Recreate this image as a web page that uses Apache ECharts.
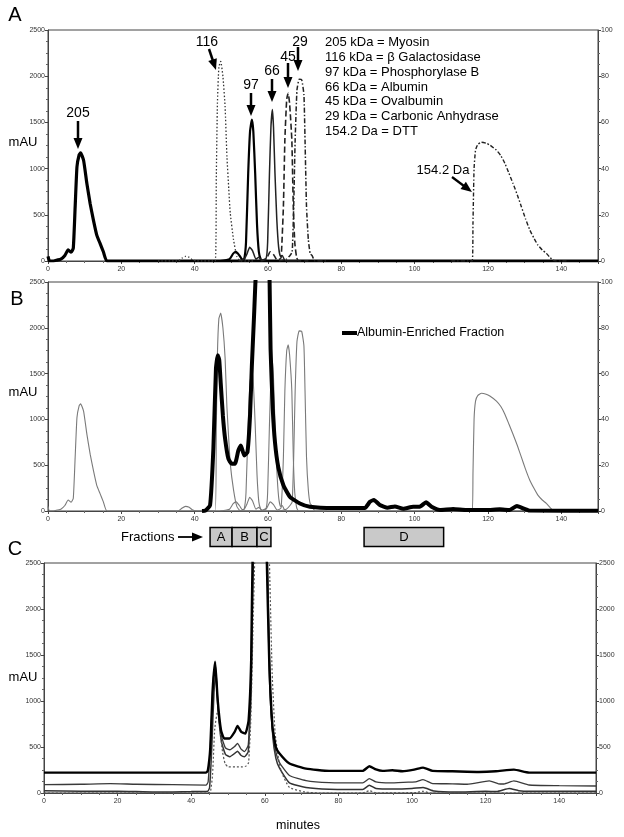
<!DOCTYPE html>
<html><head><meta charset="utf-8">
<script src="https://cdn.jsdelivr.net/npm/echarts@6/dist/echarts.min.js"></script>
<style>html,body{margin:0;padding:0;background:#fff}#c{width:624px;height:837px}</style>
</head><body><div id="c"></div>
<script>
// ---- data (minutes, mAU) ----
const myosin205 = [[0,50],[0.4,0],[1.5,0],[2.5,10],[3.5,20],[4.6,60],[5.5,120],[6.3,95],[6.9,140],[7.4,580],[7.9,1020],[8.5,1150],[8.9,1170],[9.7,1090],[10.6,840],[11.5,620],[12.4,440],[13.3,280],[14.2,190],[15.1,100],[16.1,0],[150,0]];
const bgal116 = [[30,0],[35.5,0],[36.5,30],[37.5,50],[38.5,40],[39.5,10],[40.5,0],[45.6,0],[45.9,900],[46.2,1700],[46.6,2100],[47.1,2160],[47.7,2000],[48.3,1670],[48.8,1130],[49.3,780],[49.7,520],[50.6,230],[51.5,50],[52.5,0],[56,0]];
const phos97 = [[47,0],[49.5,20],[50.5,80],[51.3,100],[52.2,60],[53,15],[53.5,20],[54.0,200],[54.6,950],[55.1,1400],[55.6,1530],[56.0,1400],[56.5,950],[57.0,400],[57.5,100],[58,20],[58.5,0],[62,0]];
const alb66 = [[52,0],[53.5,20],[54.3,80],[55.0,150],[55.8,110],[56.7,20],[57.5,40],[58.3,10],[59.5,30],[59.9,200],[60.4,950],[60.8,1450],[61.2,1640],[61.5,1450],[61.9,950],[62.4,450],[62.9,150],[63.4,50],[63.9,60],[64.4,20],[65,0],[68,0]];
const ova45 = [[58,0],[59.5,20],[60.6,100],[61.5,70],[62.5,10],[63.2,20],[63.6,40],[64.2,590],[64.6,1310],[65.1,1750],[65.5,1815],[65.9,1700],[66.5,1310],[66.9,590],[67.3,200],[67.8,40],[68.3,0],[71,0]];
const carb29 = [[63,0],[65,20],[66,60],[66.6,100],[67.0,580],[67.4,1300],[67.9,1850],[68.5,1966],[69.2,1960],[69.8,1800],[70.1,1310],[70.5,590],[71.0,230],[71.5,80],[72,60],[72.8,0],[76,0]];
const dtt154 = [[110,0],[115.7,0],[115.9,400],[116.2,1000],[116.6,1200],[117.2,1260],[118.2,1285],[119.5,1275],[120.5,1255],[122.3,1200],[123.5,1140],[124.6,1057],[125.7,950],[126.8,841],[128,715],[129.1,588],[130.2,460],[131.4,336],[132.5,250],[133.6,173],[134.8,120],[135.9,83],[137,35],[137.7,10],[138.5,0],[142,0]];
const enriched = [[42,0],[42.9,5],[44.2,62],[45.1,680],[45.8,1550],[46.3,1700],[46.7,1650],[47.1,1400],[47.7,1040],[48.3,790],[49.2,570],[50.1,516],[51.0,516],[51.9,660],[52.6,716],[53.5,607],[54.4,643],[55.1,1043],[55.6,1588],[56.2,2134],[56.7,2600],[58.5,3500],[59.8,3500],[60.4,2600],[60.7,1770],[61.3,1115],[61.9,752],[62.8,480],[64.2,280],[66,153],[68.7,82],[71.4,47],[77.8,33],[86.4,33],[87.8,100],[88.9,120],[90.5,65],[92.6,36],[94.6,50],[96.9,25],[99.6,47],[101.4,47],[103.1,95],[104.6,47],[106.9,11],[110.5,22],[114.1,11],[119.5,11],[123.2,18],[125.9,11],[127.9,55],[129.5,30],[131.3,5],[150,3]];
const runC1 = [[0,222],[20,222],[44,222],[44.5,240],[45.2,500],[45.8,1100],[46.5,1426],[47.2,1009],[48.1,682],[49.0,592],[50.4,592],[51.8,664],[52.6,729],[53.6,664],[54.7,646],[55.6,791],[56.3,1444],[56.7,2600],[58,3500],[60,3500],[60.5,2600],[61.2,1444],[62.1,718],[63,500],[64,430],[66.7,320],[71.2,265],[77.5,240],[86.6,240],[88.4,291],[90.2,256],[92,240],[94.7,247],[97.4,236],[100.6,254],[103,276],[105.6,240],[111,236],[118.2,229],[122.8,236],[127.7,254],[131.8,222],[150,222]];
const runC2 = [[0,90],[10,95],[18,102],[25,95],[35,90],[44,85],[44.6,120],[45.3,600],[46,1250],[46.6,1390],[47.3,950],[48.2,620],[49.3,490],[50.5,470],[51.8,505],[52.6,540],[53.5,480],[54.5,450],[55.5,520],[56.2,1200],[56.8,2600],[58,3500],[60,3500],[60.6,2600],[61.2,1300],[62,700],[63,450],[64,330],[66.7,190],[71.2,135],[77.5,113],[86.6,109],[88.4,156],[90.2,120],[94,109],[99,118],[101,120],[103,145],[105.6,102],[111,100],[115,95],[121,131],[123.5,100],[125,98],[127.7,131],[131.8,87],[140,80],[150,76]];
const runC3 = [[0,25],[10,20],[20,20],[30,10],[40,15],[44.5,20],[45,60],[45.6,500],[46.2,1100],[46.7,1300],[47.3,900],[48.2,560],[49.3,420],[50.5,395],[51.8,430],[52.6,455],[53.5,410],[54.5,395],[55.5,450],[56.3,1100],[56.9,2600],[58,3500],[60,3500],[60.7,2600],[61.4,1200],[62.2,600],[63,380],[64,270],[66.7,110],[71.2,60],[77.5,40],[86.6,37],[88.4,84],[90.2,50],[95,44],[100,50],[103,60],[106,22],[112,11],[120,18],[123,15],[126.4,48],[129,25],[132,18],[150,18]];
const runC4 = [[0,0],[44,0],[45.2,10],[45.8,200],[46.4,700],[47.2,900],[47.8,700],[48.5,450],[49.2,320],[50,285],[52,283],[54,283],[55,295],[55.6,330],[56.2,800],[56.8,1800],[57.3,2600],[58,3500],[60.5,3500],[61.2,2600],[62,1300],[62.8,650],[63.7,380],[64.5,230],[66.7,60],[71,10],[75,0],[86.6,0],[88.4,25],[90.5,0],[101,5],[103,18],[105,0],[150,0]];
const legendLines = ['205 kDa = Myosin','116 kDa = \u03b2 Galactosidase','97 kDa = Phosphorylase B','66 kDa = Albumin','45 kDa = Ovalbumin','29 kDa = Carbonic Anhydrase','154.2 Da = DTT'];
const fractions = [{label:'A',from:44.2,to:50.2},{label:'B',from:50.2,to:57.0},{label:'C',from:57.0,to:60.8},{label:'D',from:86.2,to:107.9}];

const FF = 'Liberation Sans, Arial, sans-serif';
const chart = echarts.init(document.getElementById('c'), null, {renderer:'canvas'});
const plain = v => String(v);

function xAx(g){
  return {type:'value',gridIndex:g,min:0,max:150,interval:20,
    axisLine:{show:true,onZero:false,lineStyle:{color:'#444',width:1}},
    axisTick:{show:true,length:3,lineStyle:{color:'#444'}},
    minorTick:{show:true,splitNumber:4,length:2,lineStyle:{color:'#666'}},
    axisLabel:{fontSize:7,color:'#333',margin:5,showMaxLabel:false,fontFamily:FF,formatter:plain},
    splitLine:{show:false}};
}
function yAx(g,pos,max,interval){
  return {type:'value',gridIndex:g,position:pos,min:0,max:max,interval:interval,
    axisLine:{show:true,lineStyle:{color:'#444',width:1}},
    axisTick:{show:true,length:3,lineStyle:{color:'#444'}},
    minorTick:{show:true,splitNumber:4,length:2,lineStyle:{color:'#666'}},
    axisLabel:{fontSize:7,color:'#333',margin:3,fontFamily:FF,formatter:plain},
    splitLine:{show:false}};
}
function ln(data,xi,yi,color,w,type,z){
  return {type:'line',data:data,xAxisIndex:xi,yAxisIndex:yi,symbol:'none',smooth:0.15,
    lineStyle:{color:color,width:w,type:type||'solid'},z:z||2,silent:true};
}
const stdA = [
  [myosin205,'#000',3.2,'solid'],
  [bgal116,'#333',1.3,[1.5,2]],
  [phos97,'#000',2.2,'solid'],
  [alb66,'#222',1.5,'solid'],
  [ova45,'#222',1.6,[6,3]],
  [carb29,'#222',1.5,[5,2,1.5,2]],
  [dtt154,'#222',1.4,[4,2,1.5,2]]
];
const series = [];
stdA.forEach(s=>series.push(ln(s[0],0,0,s[1],s[2],s[3])));
stdA.forEach(s=>series.push(ln(s[0],1,2,'#7a7a7a',1.1,'solid')));
series.push(ln(enriched,1,2,'#000',4,'solid',5));
series.push(ln(runC1,2,4,'#000',2.4,'solid',5));
series.push(ln(runC2,2,4,'#3a3a3a',1.3,'solid'));
series.push(ln(runC3,2,4,'#333',1.5,'solid'));
series.push(ln(runC4,2,4,'#555',1.2,[2,2]));

const gridStyle = {show:true,borderColor:'#444',borderWidth:1,backgroundColor:'transparent'};
chart.setOption({
  animation:false,
  backgroundColor:'#fff',
  grid:[
    Object.assign({left:48,top:30,width:550,height:231},gridStyle),
    Object.assign({left:48,top:282,width:550,height:229},gridStyle),
    Object.assign({left:44,top:563,width:552,height:230},gridStyle)
  ],
  xAxis:[xAx(0),xAx(1),xAx(2)],
  yAxis:[yAx(0,'left',2500,500),yAx(0,'right',100,20),
         yAx(1,'left',2500,500),yAx(1,'right',100,20),
         yAx(2,'left',2500,500),yAx(2,'right',2500,500)],
  series:series
});

function arrow(x1,y1,x2,y2,w){
  const dx=x2-x1,dy=y2-y1,L=Math.hypot(dx,dy),ux=dx/L,uy=dy/L,hl=11,hw=4.5;
  const bx=x2-ux*hl,by=y2-uy*hl;
  return [{type:'line',shape:{x1:x1,y1:y1,x2:bx+ux*1,y2:by+uy*1},style:{stroke:'#000',lineWidth:w}},
          {type:'polygon',shape:{points:[[x2,y2],[bx-uy*hw,by+ux*hw],[bx+uy*hw,by-ux*hw]]},style:{fill:'#000'}}];
}
function txt(x,y,s,size,align,extra){
  return {type:'text',x:x,y:y,style:Object.assign({text:s,font:size+'px '+FF,fill:'#000',align:align||'center',verticalAlign:'middle'},extra||{}),z:10};
}
const g = [];
g.push(txt(15,15,'A',20),txt(17,299,'B',20),txt(15,549,'C',20));
g.push(txt(23,142,'mAU',13),txt(23,392,'mAU',13),txt(23,677,'mAU',13));
// peak labels + arrows panel A
g.push(txt(78,113,'205',14)); g.push(...arrow(78,121,78,149,2.5));
g.push(txt(207,42,'116',14)); g.push(...arrow(209,49,216,70,2.5));
g.push(txt(251,85,'97',14)); g.push(...arrow(251,93,251,116,2.5));
g.push(txt(272,71,'66',14)); g.push(...arrow(272,79,272,102,2.5));
g.push(txt(288,57,'45',14)); g.push(...arrow(288,63,288,88,2.5));
g.push(txt(300,42,'29',14)); g.push(...arrow(298,47,298,71,2.5));
g.push(txt(443,170,'154.2 Da',13)); g.push(...arrow(452,177,472,192,2.2));
legendLines.forEach((s,i)=>g.push(txt(325,42.7+i*14.8,s,13,'left')));
// panel B legend
g.push({type:'rect',shape:{x:342,y:331,width:15,height:4},style:{fill:'#000'},z:10});
g.push(txt(357,333,'Albumin-Enriched Fraction',12.5,'left'));
// fractions
g.push(txt(121,537,'Fractions',13,'left'));
g.push(...arrow(178,537,203,537,1.8));
fractions.forEach(f=>{
  const p1 = chart.convertToPixel({gridIndex:1},[f.from,0]);
  const p2 = chart.convertToPixel({gridIndex:1},[f.to,0]);
  g.push({type:'rect',shape:{x:p1[0],y:527.5,width:p2[0]-p1[0],height:19},style:{fill:'#c9c9c9',stroke:'#000',lineWidth:1.5},z:9});
  g.push(txt((p1[0]+p2[0])/2,537.5,f.label,13));
});
g.push(txt(298,826,'minutes',12.5));
chart.setOption({graphic:g});
</script></body></html>
